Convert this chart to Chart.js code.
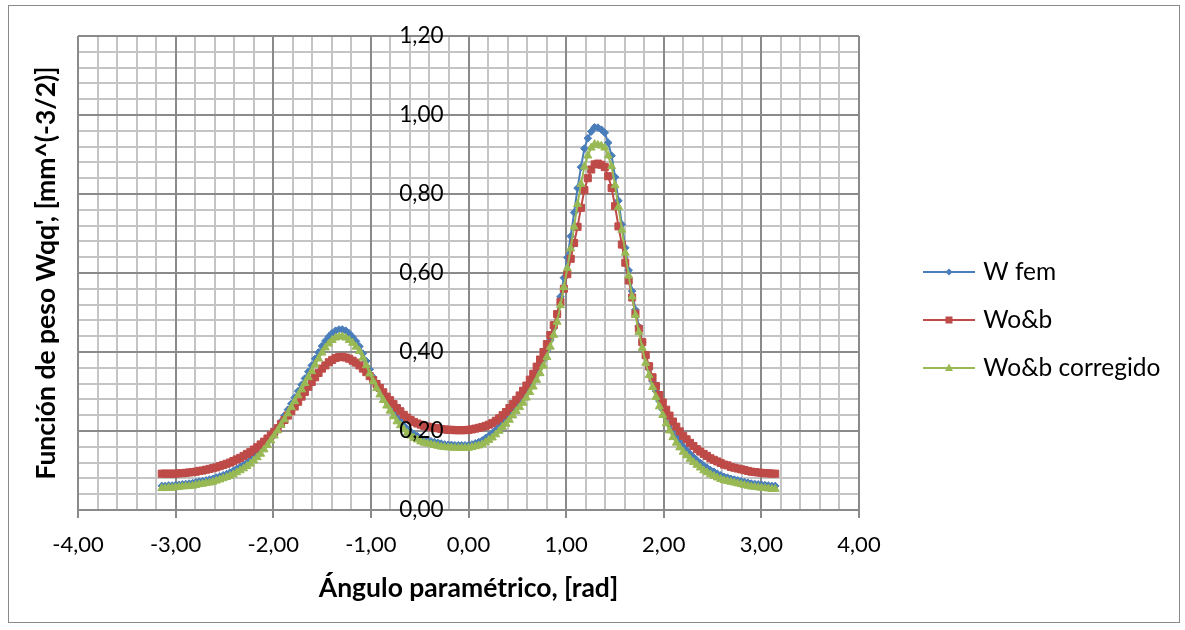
<!DOCTYPE html>
<html>
<head>
<meta charset="utf-8">
<title>Función de peso Wqq'</title>
<script src="https://cdn.jsdelivr.net/npm/chart.js@4.4.1/dist/chart.umd.min.js"></script>
<style>
  html, body { margin: 0; padding: 0; background: #fff; }
  #wrap { position: relative; width: 1185px; height: 630px; }
  #plots { position: absolute; left: 0; top: 0; }
  #marco { position: absolute; left: 8px; top: 5px; width: 1170px; height: 616px; border: 1px solid #8a8a8a; pointer-events: none; }
</style>
</head>
<body>
<div id="wrap">
  <canvas id="plots" width="1185" height="630"></canvas>
  <div id="marco"></div>
</div>
<script>
// angulo parametrico en rad, de -180 a 180 grados cada 2 grados
var angulos = [-3.142, -3.107, -3.072, -3.037, -3.002, -2.967, -2.932, -2.897, -2.862, -2.827,
  -2.793, -2.758, -2.723, -2.688, -2.653, -2.618, -2.583, -2.548, -2.513, -2.478,
  -2.443, -2.409, -2.374, -2.339, -2.304, -2.269, -2.234, -2.199, -2.164, -2.129,
  -2.094, -2.059, -2.025, -1.990, -1.955, -1.920, -1.885, -1.850, -1.815, -1.780,
  -1.745, -1.710, -1.676, -1.641, -1.606, -1.571, -1.536, -1.501, -1.466, -1.431,
  -1.396, -1.361, -1.326, -1.292, -1.257, -1.222, -1.187, -1.152, -1.117, -1.082,
  -1.047, -1.012, -0.977, -0.942, -0.908, -0.873, -0.838, -0.803, -0.768, -0.733,
  -0.698, -0.663, -0.628, -0.593, -0.559, -0.524, -0.489, -0.454, -0.419, -0.384,
  -0.349, -0.314, -0.279, -0.244, -0.209, -0.175, -0.140, -0.105, -0.070, -0.035,
  0,
  0.035, 0.070, 0.105, 0.140, 0.175, 0.209, 0.244, 0.279, 0.314, 0.349,
  0.384, 0.419, 0.454, 0.489, 0.524, 0.559, 0.593, 0.628, 0.663, 0.698,
  0.733, 0.768, 0.803, 0.838, 0.873, 0.908, 0.942, 0.977, 1.012, 1.047,
  1.082, 1.117, 1.152, 1.187, 1.222, 1.257, 1.292, 1.326, 1.361, 1.396,
  1.431, 1.466, 1.501, 1.536, 1.571, 1.606, 1.641, 1.676, 1.710, 1.745,
  1.780, 1.815, 1.850, 1.885, 1.920, 1.955, 1.990, 2.025, 2.059, 2.094,
  2.129, 2.164, 2.199, 2.234, 2.269, 2.304, 2.339, 2.374, 2.409, 2.443,
  2.478, 2.513, 2.548, 2.583, 2.618, 2.653, 2.688, 2.723, 2.758, 2.793,
  2.827, 2.862, 2.897, 2.932, 2.967, 3.002, 3.037, 3.072, 3.107, 3.142];

// W fem
var wFem = [0.061, 0.061, 0.062, 0.062, 0.063, 0.064, 0.065, 0.066, 0.067, 0.068,
  0.070, 0.072, 0.073, 0.075, 0.077, 0.079, 0.082, 0.085, 0.088, 0.091,
  0.095, 0.099, 0.104, 0.109, 0.114, 0.120, 0.126, 0.134, 0.142, 0.151,
  0.161, 0.172, 0.184, 0.196, 0.209, 0.224, 0.239, 0.254, 0.269, 0.285,
  0.301, 0.317, 0.333, 0.350, 0.366, 0.383, 0.399, 0.415, 0.428, 0.439,
  0.448, 0.454, 0.457, 0.457, 0.454, 0.447, 0.438, 0.427, 0.414, 0.396,
  0.377, 0.356, 0.336, 0.319, 0.303, 0.289, 0.275, 0.262, 0.248, 0.235,
  0.225, 0.214, 0.205, 0.198, 0.192, 0.187, 0.182, 0.178, 0.176, 0.174,
  0.172, 0.170, 0.168, 0.166, 0.165, 0.165, 0.164, 0.164, 0.164, 0.164,
  0.164,
  0.166, 0.169, 0.172, 0.176, 0.182, 0.188, 0.194, 0.203, 0.212, 0.223,
  0.232, 0.243, 0.254, 0.265, 0.276, 0.287, 0.300, 0.314, 0.328, 0.345,
  0.362, 0.380, 0.403, 0.430, 0.461, 0.496, 0.540, 0.588, 0.639, 0.693,
  0.753, 0.815, 0.868, 0.915, 0.941, 0.958, 0.969, 0.968, 0.963, 0.955,
  0.930, 0.897, 0.843, 0.783, 0.723, 0.664, 0.607, 0.554, 0.507, 0.464,
  0.425, 0.388, 0.357, 0.326, 0.301, 0.276, 0.254, 0.234, 0.216, 0.199,
  0.185, 0.173, 0.161, 0.152, 0.142, 0.134, 0.126, 0.119, 0.112, 0.107,
  0.101, 0.097, 0.092, 0.088, 0.084, 0.082, 0.079, 0.077, 0.075, 0.073,
  0.071, 0.069, 0.067, 0.066, 0.065, 0.064, 0.063, 0.062, 0.061, 0.061];

// Wo&b
var wOB = [0.092, 0.092, 0.092, 0.092, 0.092, 0.093, 0.093, 0.094, 0.095, 0.096,
  0.097, 0.099, 0.100, 0.102, 0.104, 0.106, 0.108, 0.111, 0.114, 0.117,
  0.120, 0.124, 0.128, 0.132, 0.137, 0.142, 0.147, 0.153, 0.159, 0.166,
  0.173, 0.181, 0.189, 0.198, 0.207, 0.218, 0.228, 0.239, 0.250, 0.262,
  0.274, 0.287, 0.299, 0.312, 0.324, 0.336, 0.347, 0.358, 0.366, 0.374,
  0.380, 0.385, 0.387, 0.388, 0.386, 0.383, 0.378, 0.373, 0.366, 0.358,
  0.349, 0.339, 0.329, 0.319, 0.309, 0.298, 0.287, 0.278, 0.268, 0.258,
  0.250, 0.241, 0.234, 0.228, 0.223, 0.219, 0.216, 0.213, 0.211, 0.210,
  0.208, 0.207, 0.205, 0.204, 0.203, 0.203, 0.202, 0.202, 0.202, 0.202,
  0.203,
  0.204, 0.206, 0.208, 0.210, 0.213, 0.216, 0.220, 0.226, 0.232, 0.240,
  0.248, 0.258, 0.268, 0.279, 0.290, 0.302, 0.315, 0.330, 0.345, 0.363,
  0.381, 0.400, 0.420, 0.443, 0.468, 0.496, 0.527, 0.560, 0.597, 0.636,
  0.676, 0.717, 0.765, 0.810, 0.840, 0.862, 0.875, 0.877, 0.874, 0.868,
  0.845, 0.815, 0.769, 0.718, 0.672, 0.626, 0.581, 0.538, 0.497, 0.459,
  0.425, 0.392, 0.364, 0.336, 0.314, 0.291, 0.272, 0.254, 0.239, 0.224,
  0.211, 0.199, 0.188, 0.179, 0.170, 0.162, 0.154, 0.148, 0.142, 0.137,
  0.131, 0.127, 0.123, 0.119, 0.115, 0.113, 0.109, 0.107, 0.105, 0.103,
  0.101, 0.099, 0.097, 0.096, 0.095, 0.094, 0.093, 0.093, 0.092, 0.092];

// Wo&b corregido
var wOBcorr = [0.055, 0.055, 0.056, 0.056, 0.057, 0.058, 0.059, 0.060, 0.060, 0.061,
  0.063, 0.065, 0.066, 0.068, 0.069, 0.071, 0.074, 0.077, 0.080, 0.083,
  0.086, 0.090, 0.095, 0.100, 0.105, 0.111, 0.117, 0.125, 0.133, 0.142,
  0.153, 0.164, 0.176, 0.188, 0.201, 0.215, 0.229, 0.244, 0.260, 0.275,
  0.290, 0.305, 0.321, 0.336, 0.351, 0.368, 0.383, 0.398, 0.411, 0.421,
  0.430, 0.436, 0.439, 0.439, 0.436, 0.430, 0.423, 0.413, 0.402, 0.385,
  0.366, 0.345, 0.326, 0.308, 0.292, 0.278, 0.264, 0.251, 0.237, 0.224,
  0.214, 0.204, 0.195, 0.188, 0.182, 0.178, 0.173, 0.170, 0.168, 0.166,
  0.164, 0.162, 0.160, 0.159, 0.158, 0.158, 0.157, 0.157, 0.157, 0.157,
  0.157,
  0.159, 0.161, 0.163, 0.166, 0.171, 0.177, 0.183, 0.191, 0.200, 0.210,
  0.218, 0.228, 0.239, 0.250, 0.260, 0.271, 0.284, 0.298, 0.312, 0.329,
  0.346, 0.365, 0.387, 0.413, 0.443, 0.476, 0.518, 0.564, 0.612, 0.662,
  0.717, 0.774, 0.825, 0.869, 0.897, 0.917, 0.926, 0.924, 0.922, 0.917,
  0.897, 0.870, 0.822, 0.767, 0.709, 0.651, 0.593, 0.540, 0.493, 0.450,
  0.410, 0.372, 0.341, 0.311, 0.286, 0.262, 0.240, 0.219, 0.201, 0.184,
  0.170, 0.158, 0.147, 0.138, 0.129, 0.121, 0.114, 0.107, 0.100, 0.095,
  0.090, 0.086, 0.082, 0.078, 0.075, 0.073, 0.071, 0.069, 0.067, 0.065,
  0.063, 0.061, 0.059, 0.058, 0.057, 0.056, 0.055, 0.054, 0.053, 0.053];

var series = ['W fem', 'Wo&b', 'Wo&b corregido'];
var colores = ['#4A7EBB', '#BE4B48', '#98B954'];
var marcadores = ['rectRot', 'rect', 'triangle'];
var radios = [3.8, 5, 4.6];

Chart.defaults.font.family = 'Lato';
Chart.defaults.color = '#000';

function coma(v) {
  return Number(v).toFixed(2).replace('.', ',');
}

function puntos(ys) {
  return angulos.map(function (a, i) { return { x: a, y: ys[i] }; });
}

// muestra de la leyenda: linea con el marcador en el centro
function icono(color, estilo) {
  var c = document.createElement('canvas');
  c.width = 52; c.height = 14;
  var g = c.getContext('2d');
  g.strokeStyle = color;
  g.fillStyle = color;
  g.lineWidth = 2;
  g.beginPath(); g.moveTo(0, 7); g.lineTo(52, 7); g.stroke();
  g.beginPath();
  if (estilo === 'rectRot') {
    g.moveTo(26, 3.5); g.lineTo(29.5, 7); g.lineTo(26, 10.5); g.lineTo(22.5, 7);
  } else if (estilo === 'rect') {
    g.rect(22.5, 3.5, 7, 7);
  } else {
    g.moveTo(26, 2.5); g.lineTo(30, 10); g.lineTo(22, 10);
  }
  g.closePath();
  g.fill();
  return c;
}
var iconos = series.map(function (s, i) { return icono(colores[i], marcadores[i]); });

// leyenda: letra de 24.5 px, separacion 23.5 px, primera muestra en x = 927
var letraLeyenda = 24.5;
var sepLeyenda = 23.5;
var medida = document.createElement('canvas').getContext('2d');
medida.font = 'normal ' + letraLeyenda + 'px Lato';
var textoMax = Math.max.apply(null, series.map(function (s) { return medida.measureText(s).width; }));
var anchoLeyenda = sepLeyenda + 44 + letraLeyenda / 2 + textoMax + 10;
var margenDerecho = 1185 - (927 - sepLeyenda) - anchoLeyenda;

var valores = [wFem, wOB, wOBcorr];
var datasets = series.map(function (nombre, i) {
  return {
    label: nombre,
    data: puntos(valores[i]),
    showLine: true,
    borderColor: colores[i],
    backgroundColor: colores[i],
    borderWidth: 2,
    pointStyle: marcadores[i],
    pointRadius: radios[i],
    pointBorderWidth: 1,
    pointHoverRadius: radios[i],
    order: 3 - i,
    xAxisID: 'x',
    yAxisID: 'y'
  };
});

var gridMenor = { color: '#c4c4c4', lineWidth: 2, drawTicks: false, z: -2 };
var gridMayor = { color: '#8a8a8a', lineWidth: 2, tickLength: 8 };

// las etiquetas del eje y (capa ticks.z = 1) van a la izquierda del eje en x = 0
var separaEtiquetasY = {
  id: 'separaEtiquetasY',
  afterDatasetsDraw: function (chart) { chart.ctx.save(); chart.ctx.translate(-25, 0); },
  afterDraw: function (chart) { chart.ctx.restore(); }
};

new Chart(document.getElementById('plots'), {
  type: 'scatter',
  data: { datasets: datasets },
  plugins: [separaEtiquetasY],
  options: {
    responsive: false,
    animation: false,
    devicePixelRatio: 1,
    layout: { autoPadding: false, padding: { left: 8, top: 36, right: margenDerecho, bottom: 26 } },
    plugins: {
      tooltip: { enabled: false },
      legend: {
        position: 'right',
        align: 'center',
        maxWidth: anchoLeyenda + 1,
        labels: {
          usePointStyle: true,
          pointStyleWidth: 44,
          padding: sepLeyenda,
          font: { size: letraLeyenda },
          color: '#000',
          generateLabels: function (chart) {
            return chart.data.datasets.map(function (ds, i) {
              return { text: ds.label, pointStyle: iconos[i], datasetIndex: i, hidden: false,
                lineWidth: 0, fillStyle: ds.borderColor, strokeStyle: ds.borderColor, fontColor: '#000' };
            });
          }
        }
      }
    },
    scales: {
      xMinor: {
        type: 'linear', axis: 'x', position: { y: 0 }, min: -4, max: 4,
        ticks: { display: false, stepSize: 0.2 }, grid: gridMenor, border: { display: false }
      },
      yMinor: {
        type: 'linear', axis: 'y', position: { x: 0 }, min: 0, max: 1.2,
        ticks: { display: false, stepSize: 0.04 }, grid: gridMenor, border: { display: false }
      },
      x: {
        type: 'linear', position: 'bottom', min: -4, max: 4,
        ticks: { stepSize: 1, padding: 14, maxRotation: 0, font: { size: 22 }, callback: coma },
        grid: gridMayor,
        border: { color: '#8a8a8a', width: 2 },
        title: { display: true, text: 'Ángulo paramétrico, [rad]', font: { size: 26.5, weight: 'bold' },
          padding: { top: 0, bottom: 0 } },
        afterFit: function (s) { s.height = 94; }
      },
      y: {
        type: 'linear', position: { x: 0 }, min: 0, max: 1.2,
        ticks: { stepSize: 0.2, z: 1, font: { size: 22.5 }, callback: coma },
        grid: gridMayor,
        border: { color: '#8a8a8a', width: 2 }
      },
      yTitulo: {
        type: 'linear', axis: 'y', position: 'left',
        grid: { display: false }, ticks: { display: false }, border: { display: false },
        title: { display: true, text: "Función de peso Wqq', [mm^(-3/2)]", font: { size: 26.5, weight: 'bold' },
          padding: { top: 23, bottom: 0 } },
        afterFit: function (s) { s.width = 70; }
      },
      yHueco: {
        type: 'linear', axis: 'y', position: 'right',
        grid: { display: false }, ticks: { display: false }, border: { display: false },
        afterFit: function (s) { s.width = 927 - sepLeyenda - 859; }
      }
    }
  }
});
</script>
</body>
</html>
